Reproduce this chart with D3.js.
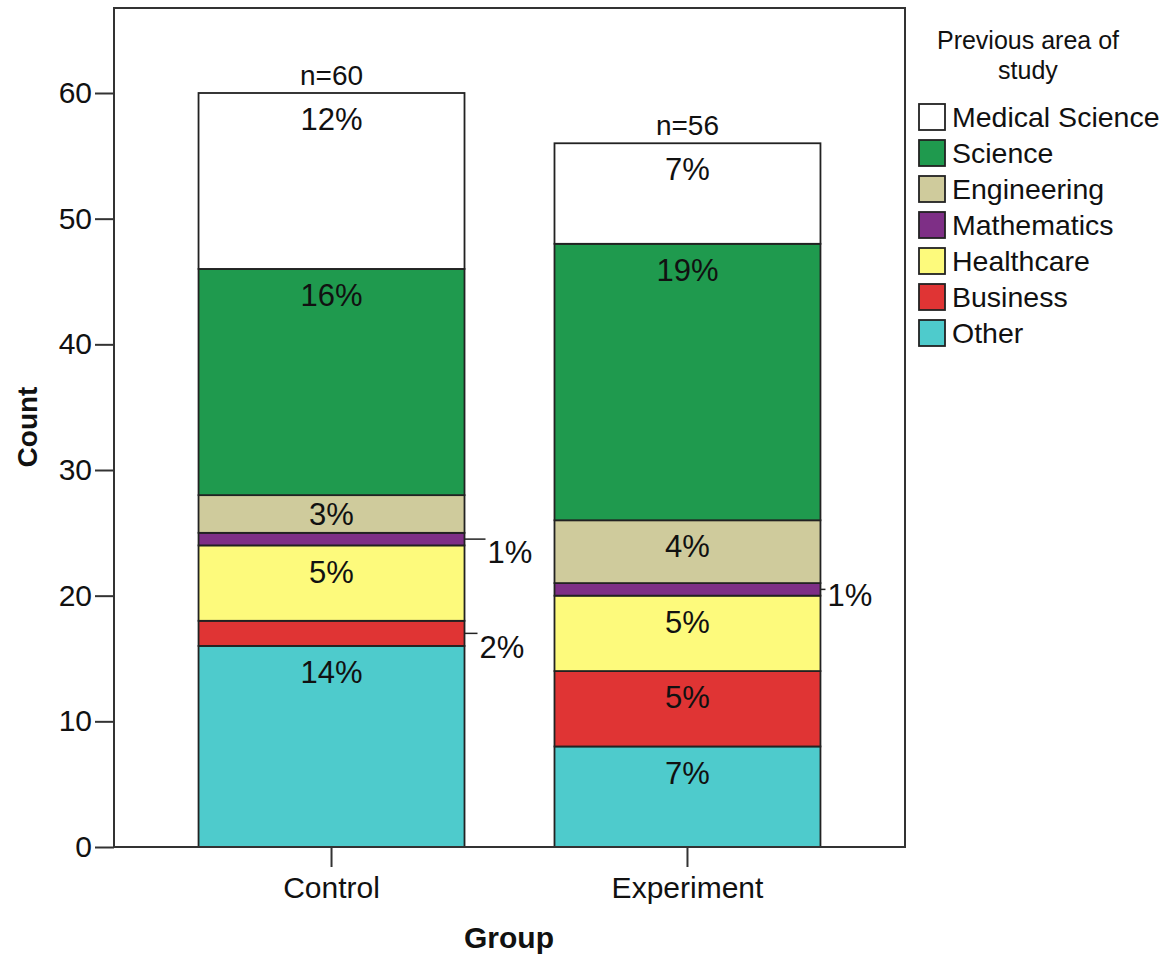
<!DOCTYPE html>
<html><head><meta charset="utf-8">
<script src="https://cdn.jsdelivr.net/npm/d3@7"></script>
<style>body{margin:0;background:#fff}svg{display:block}text{font-family:"Liberation Sans",Arial,sans-serif;fill:#111}</style>
</head><body><svg id="c" width="1171" height="962"></svg>
<script>
const groups = ["Control", "Experiment"];
const areas = ["Other", "Business", "Healthcare", "Mathematics", "Engineering", "Science", "Medical Science"];
const legendOrder = ["Medical Science", "Science", "Engineering", "Mathematics", "Healthcare", "Business", "Other"];
const controlCounts = [16, 2, 6, 1, 3, 18, 14];
const experimentCounts = [8, 6, 6, 1, 5, 22, 8];
const yTicks = [0, 10, 20, 30, 40, 50, 60];
const colors = ["#4ecbcc", "#e03434", "#fdfa7c", "#7e2f86", "#cfcb9c", "#1f9a4e", "#ffffff"];
const legendTitle = ["Previous area of", "study"];

const countsByGroup = [controlCounts, experimentCounts];
const grandTotal = d3.sum(controlCounts) + d3.sum(experimentCounts);

const svg = d3.select("#c");
const L = 114, R = 905, T = 8, B = 847;
const y = d3.scaleLinear().domain([0, 60]).range([B, 93]);
const x = d3.scaleBand().domain(groups).range([L, R]).paddingInner(0.2528).paddingOuter(0.2375);
const color = d3.scaleOrdinal().domain(areas).range(colors);
const stroke = "#222";

const table = groups.map((g, gi) => {
  const o = {group: g};
  areas.forEach((a, i) => o[a] = countsByGroup[gi][i]);
  return o;
});
const series = d3.stack().keys(areas)(table);

const plot = svg.append("g");
series.forEach(s => {
  plot.selectAll(null).data(s).join("rect")
    .attr("x", d => x(d.data.group))
    .attr("width", x.bandwidth())
    .attr("y", d => y(d[1]))
    .attr("height", d => y(d[0]) - y(d[1]))
    .attr("fill", color(s.key))
    .attr("stroke", stroke).attr("stroke-width", 1.8);
});

// segment labels
const outsideOffsets = {"Control|Mathematics": [21, 0], "Control|Business": [13, 0], "Experiment|Mathematics": [5, -8]};
series.forEach(s => {
  s.forEach(d => {
    const v = d[1] - d[0];
    const pct = Math.round(v / grandTotal * 100) + "%";
    const top = y(d[1]), h = y(d[0]) - y(d[1]);
    const cx = x(d.data.group) + x.bandwidth() / 2;
    if (h >= 30) {
      plot.append("text").attr("x", cx).attr("y", top + Math.min(26, h / 2)).attr("dy", "0.36em")
        .attr("text-anchor", "middle").attr("font-size", 31).text(pct);
    } else {
      const xr = x(d.data.group) + x.bandwidth();
      const off = outsideOffsets[d.data.group + "|" + s.key] || [10, 0];
      const ly = top + h / 2;
      plot.append("line").attr("x1", xr).attr("x2", xr + off[0]).attr("y1", ly).attr("y2", ly)
        .attr("stroke", stroke).attr("stroke-width", 1.5);
      plot.append("text").attr("x", xr + off[0] + 2).attr("y", ly + 13 + off[1]).attr("dy", "0.36em")
        .attr("font-size", 31).text(pct);
    }
  });
});

// n labels
groups.forEach((g, gi) => {
  const tot = d3.sum(countsByGroup[gi]);
  svg.append("text").attr("x", x(g) + x.bandwidth() / 2).attr("y", y(tot) - 8)
    .attr("text-anchor", "middle").attr("font-size", 28).text("n=" + tot);
});

// frame
svg.append("rect").attr("x", L).attr("y", T).attr("width", R - L).attr("height", B - T)
  .attr("fill", "none").attr("stroke", "#333").attr("stroke-width", 2);

// y axis
const yAxis = svg.append("g").attr("transform", `translate(${L},0)`)
  .call(d3.axisLeft(y).tickValues(yTicks).tickSize(19).tickPadding(3));
yAxis.select(".domain").remove();
yAxis.selectAll("line").attr("stroke", "#333").attr("stroke-width", 2);
yAxis.selectAll("text").attr("font-size", 30).attr("font-family", "Liberation Sans, Arial, sans-serif").attr("fill", "#111");

// x axis
const xAxis = svg.append("g").attr("transform", `translate(0,${B})`)
  .call(d3.axisBottom(x).tickSize(20).tickPadding(10));
xAxis.select(".domain").remove();
xAxis.selectAll("line").attr("stroke", "#333").attr("stroke-width", 2);
xAxis.selectAll("text").attr("font-size", 30).attr("font-family", "Liberation Sans, Arial, sans-serif").attr("fill", "#111");

svg.append("text").attr("x", 509).attr("y", 948).attr("text-anchor", "middle")
  .attr("font-size", 30).attr("font-weight", "bold").text("Group");
svg.append("text").attr("transform", "translate(37,427) rotate(-90)").attr("text-anchor", "middle")
  .attr("font-size", 28).attr("font-weight", "bold").text("Count");

// legend
const lg = svg.append("g");
legendTitle.forEach((t, i) => lg.append("text").attr("x", 1028).attr("y", 49 + i * 30)
  .attr("text-anchor", "middle").attr("font-size", 25).text(t));
legendOrder.forEach((a, i) => {
  const yy = 104 + i * 36;
  lg.append("rect").attr("x", 919).attr("y", yy).attr("width", 26).attr("height", 26)
    .attr("fill", color(a)).attr("stroke", stroke).attr("stroke-width", 1.8);
  lg.append("text").attr("x", 952).attr("y", yy + 13).attr("dy", "0.36em").attr("font-size", 28.5).text(a);
});
</script></body></html>
